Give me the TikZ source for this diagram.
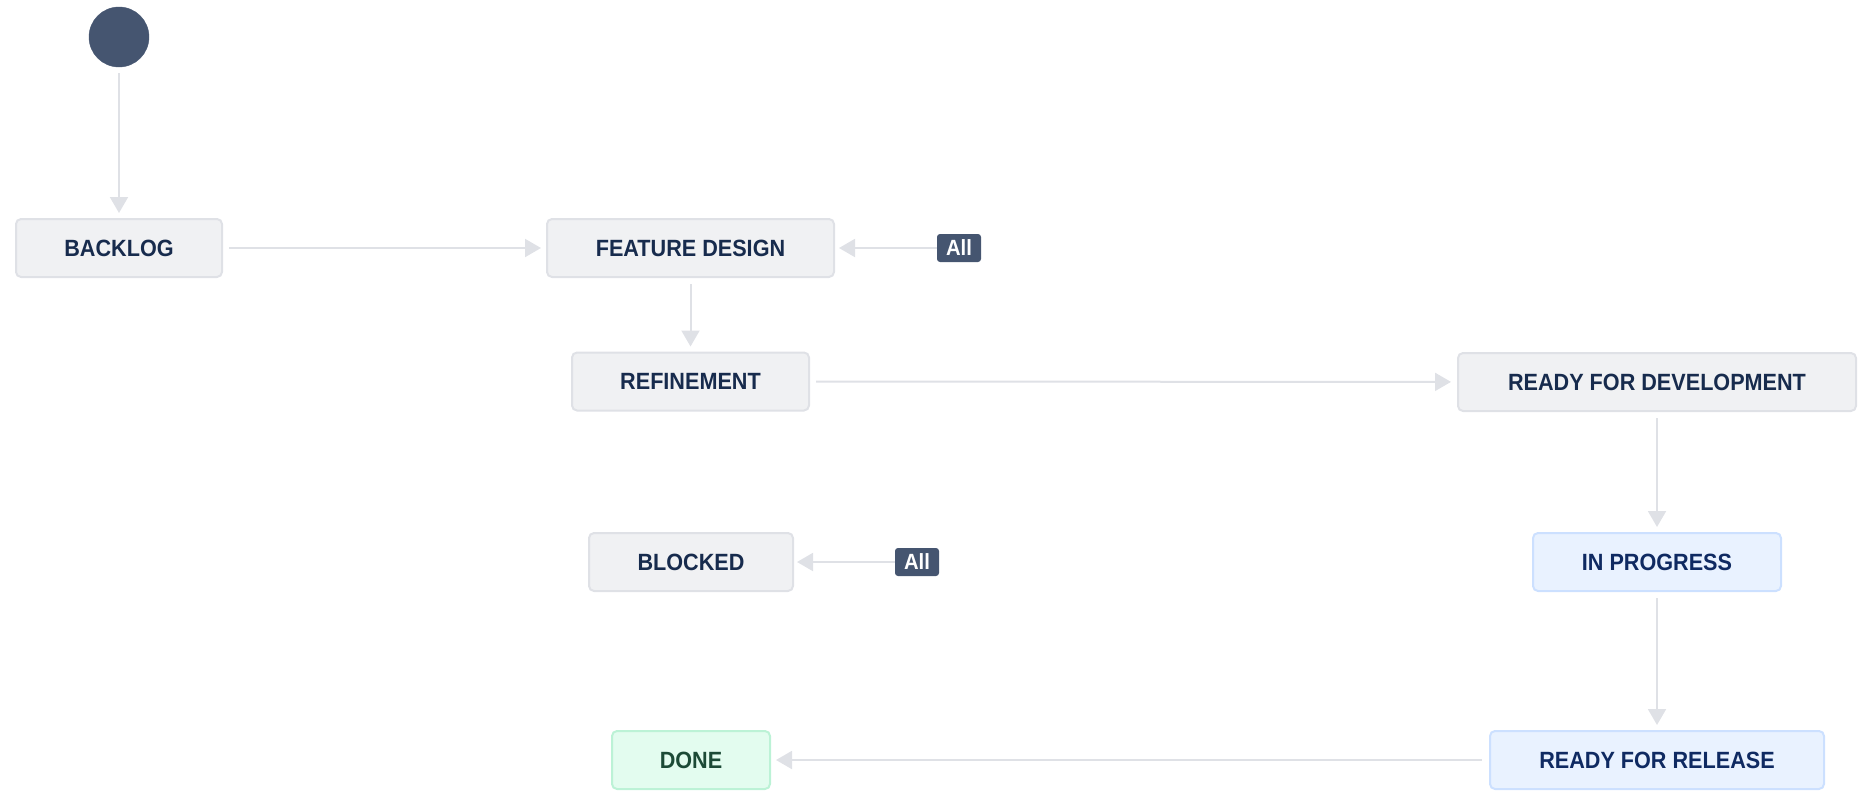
\documentclass[tikz,border=0pt]{standalone}
\usepackage{fontspec}
\setmainfont{Liberation Sans}
\newfontfamily\labelfont[FakeStretch=0.92]{Liberation Sans}
\usetikzlibrary{arrows.meta}
\definecolor{boxfill}{HTML}{F0F1F3}
\definecolor{boxline}{HTML}{DFE1E6}
\definecolor{navy}{HTML}{172B4D}
\definecolor{bluefill}{HTML}{E9F2FF}
\definecolor{blueline}{HTML}{CCE0FF}
\definecolor{bluetext}{HTML}{0F2A62}
\definecolor{greenfill}{HTML}{E3FCEF}
\definecolor{greenline}{HTML}{BCF2D6}
\definecolor{greentext}{HTML}{1C4A36}
\definecolor{startfill}{HTML}{455570}
\definecolor{arrowcol}{HTML}{DFE1E6}
\tikzset{
  status/.style={draw=boxline, fill=boxfill, line width=2pt, rounded corners=5pt,
    text=navy, font=\labelfont\fontsize{23.5}{26}\selectfont\bfseries, inner sep=0pt,
    minimum height=58pt},
  progress/.style={status, draw=blueline, fill=bluefill, text=bluetext},
  finished/.style={status, draw=greenline, fill=greenfill, text=greentext},
  allbadge/.style={fill=startfill, rounded corners=3pt, text=white,
    font=\labelfont\fontsize{22}{24}\selectfont\bfseries, inner sep=0pt,
    minimum width=44pt, minimum height=28pt},
  startnode/.style={circle, fill=startfill, draw=startfill, minimum size=60pt, inner sep=0pt},
  flow/.style={draw=arrowcol, line width=2pt,
    -{Triangle[length=16pt,width=18pt]}, shorten >=5pt, shorten <=6pt},
}
\begin{document}
\begin{tikzpicture}[x=1pt,y=-1pt]
\useasboundingbox (0,0) rectangle (1876,798);

\node[startnode] (start) at (119,37) {};
\node[status, minimum width=206pt] (backlog) at (119,248) {BACKLOG};
\node[status, minimum width=287pt] (fd) at (690.5,248) {FEATURE DESIGN};
\node[allbadge] (allA) at (959,248) {All};
\node[status, minimum width=237pt] (ref) at (690.5,381.5) {REFINEMENT};
\node[status, minimum width=398pt] (rfd) at (1657,382) {READY FOR DEVELOPMENT};
\node[progress, minimum width=248pt] (ip) at (1657,562) {IN PROGRESS};
\node[progress, minimum width=334pt] (rfr) at (1657,760) {READY FOR RELEASE};
\node[status, minimum width=204pt] (blocked) at (691,562) {BLOCKED};
\node[allbadge] (allB) at (917,562) {All};
\node[finished, minimum width=158pt] (done) at (691,760) {DONE};

\draw[flow] (start) -- (backlog);
\draw[flow] (backlog) -- (fd);
\draw[flow, shorten <=0pt, shorten >=4pt] (allA) -- (fd);
\draw[flow] (fd) -- (ref);
\draw[flow, shorten >=6pt] (ref) -- (rfd);
\draw[flow] (rfd) -- (ip);
\draw[flow] (ip) -- (rfr);
\draw[flow, shorten <=7pt] (rfr) -- (done);
\draw[flow, shorten <=0pt, shorten >=3pt] (allB) -- (blocked);
\end{tikzpicture}
\end{document}
